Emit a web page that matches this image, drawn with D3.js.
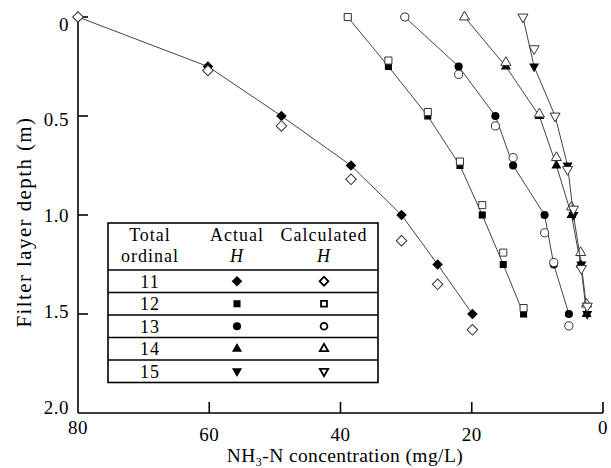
<!DOCTYPE html>
<html>
<head>
<meta charset="utf-8">
<script src="https://cdn.jsdelivr.net/npm/d3@7"></script>
<style>
  body { margin: 0; background: #fff; }
  text { font-family: "Liberation Serif", "Times New Roman", serif; fill: #000; }
</style>
</head>
<body>
<div id="chart"></div>
<script>
var width = 611,
  height = 468;

// data
var ordinals = [11, 12, 13, 14, 15];
var depthActual = [0, 0.25, 0.5, 0.75, 1.0, 1.25, 1.5];

var conc11 = [80, 60.2, 49.0, 38.4, 30.7, 25.2, 19.9];
var calc11 = [0, 0.27, 0.55, 0.82, 1.13, 1.35, 1.58];

var conc12 = [38.9, 32.7, 26.7, 21.8, 18.4, 15.2, 12.1];
var calc12 = [0, 0.22, 0.48, 0.73, 0.95, 1.19, 1.47];

var conc13 = [30.2, 22.0, 16.4, 13.7, 8.9, 7.5, 5.2];
var calc13 = [0, 0.29, 0.55, 0.71, 1.09, 1.24, 1.56];

var conc14 = [21.1, 14.8, 9.7, 7.1, 4.8, 3.4, 2.5];
var calc14 = [0, 0.23, 0.49, 0.71, 0.96, 1.19, 1.45];

var conc15 = [12.2, 10.5, 7.3, 5.4, 4.5, 3.3, 2.4];
var calc15 = [0, 0.16, 0.50, 0.77, 0.97, 1.27, 1.46];

var xTicks = [80, 60, 40, 20, 0];
var yTicks = [0, 0.5, 1.0, 1.5, 2.0];

var concs = [conc11, conc12, conc13, conc14, conc15];
var calcs = [calc11, calc12, calc13, calc14, calc15];

var svg = d3.select( "#chart" )
  .append( "svg" )
  .attr( "width", width )
  .attr( "height", height );

var x = d3.scaleLinear().domain( [80, 0] ).range( [78, 603] );
var y = d3.scaleLinear().domain( [0, 2] ).range( [17, 413] );
// the tick labels in the original sit a bit inside the tick span
var yLab = d3.scaleLinear().domain( [0, 2] ).range( [24, 407] );

// marker shapes: type, size, rotation
var shapes = [
  { type: d3.symbolSquare, size: 56, rot: 45 },
  { type: d3.symbolSquare, size: 50, rot: 0 },
  { type: d3.symbolCircle, size: 52, rot: 0 },
  { type: d3.symbolTriangle, size: 44, rot: 0 },
  { type: d3.symbolTriangle, size: 44, rot: 180 }
];

function symbolPath(s, scale){
  return d3.symbol().type( s.type ).size( s.size * scale )();
}

// axes
var axes = svg.append( "g" )
  .attr( "stroke", "#000" )
  .attr( "stroke-width", 1.6 )
  .attr( "fill", "none" );

axes.append( "line" )
  .attr( "x1", x(80) ).attr( "x2", x(80) )
  .attr( "y1", y(0) ).attr( "y2", y(2) );
axes.append( "line" )
  .attr( "x1", x(80) ).attr( "x2", x(0) )
  .attr( "y1", y(2) ).attr( "y2", y(2) );

axes.selectAll( ".yt" )
  .data( yTicks.filter(function(d){ return d < 2; }) )
  .enter()
  .append( "line" )
  .attr( "x1", x(80) ).attr( "x2", x(80) + 10 )
  .attr( "y1", function(d){ return y(d); } )
  .attr( "y2", function(d){ return y(d); } );

axes.selectAll( ".xt" )
  .data( xTicks.filter(function(d){ return d < 80; }) )
  .enter()
  .append( "line" )
  .attr( "x1", function(d){ return x(d); } )
  .attr( "x2", function(d){ return x(d); } )
  .attr( "y1", y(2) ).attr( "y2", y(2) - 11 );

svg.selectAll( ".ylab" )
  .data( yTicks )
  .enter()
  .append( "text" )
  .attr( "x", 69 )
  .attr( "y", function(d){ return yLab(d); } )
  .attr( "dy", "0.35em" )
  .attr( "text-anchor", "end" )
  .attr( "font-size", 19 )
  .attr( "letter-spacing", 0.5 )
  .text( function(d){ return d == 0 ? "0" : d.toFixed(1); } );

svg.selectAll( ".xlab" )
  .data( xTicks )
  .enter()
  .append( "text" )
  .attr( "x", function(d){ return x(d); } )
  .attr( "y", function(d){ return (d == 80 || d == 0) ? 434 : 441; } )
  .attr( "text-anchor", "middle" )
  .attr( "font-size", 19 )
  .attr( "letter-spacing", 0.5 )
  .text( function(d){ return d; } );

var xt = svg.append( "text" )
  .attr( "x", 345 )
  .attr( "y", 462 )
  .attr( "text-anchor", "middle" )
  .attr( "font-size", 19.5 )
  .attr( "letter-spacing", 0.4 );
xt.append( "tspan" ).text( "NH" );
xt.append( "tspan" ).attr( "font-size", 12 ).attr( "dy", 4 ).text( "3" );
xt.append( "tspan" ).attr( "dy", -4 ).text( "-N concentration (mg/L)" );

svg.append( "text" )
  .attr( "transform", "translate(31,222) rotate(-90)" )
  .attr( "text-anchor", "middle" )
  .attr( "font-size", 21 )
  .attr( "letter-spacing", 1.4 )
  .text( "Filter layer depth (m)" );

// series lines and markers
var plot = svg.append( "g" );

var line = d3.line()
  .x( function(d){ return x(d[0]); } )
  .y( function(d){ return y(d[1]); } );

concs.forEach(function(c, i){
  var actual = c.map(function(v, j){ return [v, depthActual[j]]; });
  var calc = c.map(function(v, j){ return [v, calcs[i][j]]; });
  var s = shapes[i];

  plot.append( "path" )
    .datum( actual )
    .attr( "d", line )
    .attr( "fill", "none" )
    .attr( "stroke", "#444" )
    .attr( "stroke-width", 1 );

  plot.append( "g" ).selectAll( "path" )
    .data( actual )
    .enter()
    .append( "path" )
    .attr( "d", symbolPath(s, 1) )
    .attr( "transform", function(d){ return "translate(" + x(d[0]) + "," + y(d[1]) + ") rotate(" + s.rot + ")"; } )
    .attr( "fill", "#000" );

  plot.append( "g" ).selectAll( "path" )
    .data( calc )
    .enter()
    .append( "path" )
    .attr( "d", symbolPath(s, 1) )
    .attr( "transform", function(d){ return "translate(" + x(d[0]) + "," + y(d[1]) + ") rotate(" + s.rot + ")"; } )
    .attr( "fill", "#fff" )
    .attr( "stroke", "#333" )
    .attr( "stroke-width", 1 );
});

// legend table
var tb = svg.append( "g" );
var tx0 = 108, tx1 = 378, ty0 = 223, headH = 47, rowH = 22.5;
var colX = [150, 237, 324];

tb.append( "rect" )
  .attr( "x", tx0 ).attr( "y", ty0 )
  .attr( "width", tx1 - tx0 ).attr( "height", headH + rowH * ordinals.length )
  .attr( "fill", "#fff" )
  .attr( "stroke", "#000" )
  .attr( "stroke-width", 1.6 );

tb.selectAll( "line" )
  .data( ordinals )
  .enter()
  .append( "line" )
  .attr( "x1", tx0 ).attr( "x2", tx1 )
  .attr( "y1", function(d, i){ return ty0 + headH + rowH * i; } )
  .attr( "y2", function(d, i){ return ty0 + headH + rowH * i; } )
  .attr( "stroke", "#000" )
  .attr( "stroke-width", 1.4 );

var head1 = ["Total", "Actual", "Calculated"];
var head2 = ["ordinal", "H", "H"];
head1.forEach(function(t, i){
  tb.append( "text" ).attr( "x", colX[i] ).attr( "y", 241 )
    .attr( "text-anchor", "middle" ).attr( "font-size", 18 )
    .attr( "letter-spacing", 1 ).text( t );
  tb.append( "text" ).attr( "x", colX[i] ).attr( "y", 262 )
    .attr( "text-anchor", "middle" ).attr( "font-size", 18 )
    .attr( "letter-spacing", 1 )
    .attr( "font-style", i > 0 ? "italic" : "normal" ).text( head2[i] );
});

ordinals.forEach(function(o, i){
  var cy = ty0 + headH + rowH * i + rowH / 2;
  var s = shapes[i];
  tb.append( "text" ).attr( "x", colX[0] ).attr( "y", cy ).attr( "dy", "0.35em" )
    .attr( "text-anchor", "middle" ).attr( "font-size", 18 )
    .attr( "letter-spacing", 1 ).text( o );
  tb.append( "path" )
    .attr( "d", symbolPath(s, 1) )
    .attr( "transform", "translate(" + colX[1] + "," + cy + ") rotate(" + s.rot + ")" )
    .attr( "fill", "#000" );
  tb.append( "path" )
    .attr( "d", symbolPath(s, 0.7) )
    .attr( "transform", "translate(" + colX[2] + "," + cy + ") rotate(" + s.rot + ")" )
    .attr( "fill", "#fff" )
    .attr( "stroke", "#000" )
    .attr( "stroke-width", 1.8 );
});
</script>
</body>
</html>
